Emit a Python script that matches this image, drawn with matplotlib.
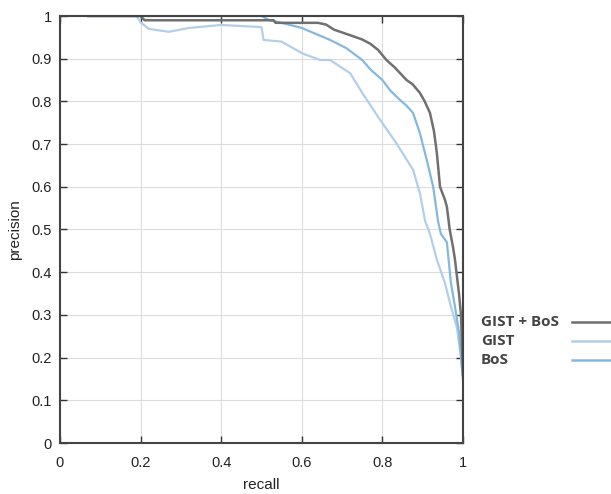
import numpy as np
import matplotlib.pyplot as plt
from matplotlib.lines import Line2D

# precision/recall curves
combo_r = [0.07, 0.20, 0.21, 0.40, 0.53, 0.535, 0.64, 0.66, 0.68, 0.72, 0.75, 0.77, 0.79, 0.81,
           0.83, 0.86, 0.875, 0.893, 0.905, 0.918, 0.928, 0.935, 0.943, 0.955, 0.96, 0.967,
           0.975, 0.98, 0.99, 0.995, 1.0]
combo_p = [1.0, 1.0, 0.99, 0.99, 0.99, 0.984, 0.984, 0.98, 0.968, 0.955, 0.945, 0.935, 0.92, 0.897,
           0.88, 0.85, 0.84, 0.82, 0.80, 0.773, 0.73, 0.68, 0.60, 0.57, 0.553, 0.50,
           0.46, 0.43, 0.35, 0.30, 0.16]

bos_r = [0.07, 0.50, 0.52, 0.55, 0.60, 0.63, 0.67, 0.71, 0.75, 0.77, 0.80, 0.82, 0.844, 0.86,
         0.876, 0.893, 0.91, 0.926, 0.938, 0.945, 0.96, 0.97, 0.98, 0.99, 1.0]
bos_p = [1.0, 1.0, 0.99, 0.984, 0.972, 0.96, 0.944, 0.925, 0.897, 0.875, 0.85, 0.825, 0.803, 0.79,
         0.773, 0.726, 0.663, 0.60, 0.52, 0.49, 0.47, 0.375, 0.32, 0.26, 0.15]

gist_r = [0.07, 0.19, 0.20, 0.22, 0.27, 0.32, 0.40, 0.50, 0.505, 0.55, 0.60, 0.645, 0.67, 0.72,
          0.75, 0.79, 0.836, 0.876, 0.893, 0.906, 0.918, 0.935, 0.955, 0.97, 0.985, 0.995, 1.0]
gist_p = [1.0, 1.0, 0.985, 0.97, 0.963, 0.972, 0.979, 0.974, 0.944, 0.94, 0.913, 0.897, 0.897, 0.866,
          0.82, 0.763, 0.70, 0.64, 0.585, 0.52, 0.49, 0.43, 0.375, 0.32, 0.27, 0.20, 0.15]

labels = ['GIST + BoS', 'GIST', 'BoS']
colors = ['#707070', '#b3cfe8', '#85b8df']

plt.rcParams['font.family'] = ['Liberation Sans', 'DejaVu Sans']

fig = plt.figure(figsize=(6.11, 4.94), dpi=100)
ax = fig.add_axes([60 / 611, 1 - 443 / 494, 403 / 611, 427 / 494])

ax.plot(gist_r, gist_p, color=colors[1], lw=1.6)
ax.plot(bos_r, bos_p, color=colors[2], lw=1.6)
ax.plot(combo_r, combo_p, color=colors[0], lw=1.8)

ax.set_xlim(0, 1)
ax.set_ylim(0, 1)
ax.set_xticks(np.arange(0, 1.01, 0.2))
ax.set_yticks(np.arange(0, 1.01, 0.1))
ax.set_xticklabels(['0', '0.2', '0.4', '0.6', '0.8', '1'])
ax.set_yticklabels(['0', '0.1', '0.2', '0.3', '0.4', '0.5', '0.6', '0.7', '0.8', '0.9', '1'])
ax.tick_params(direction='in', top=True, right=True, length=5, width=1, labelsize=10.5,
               colors='#333333', labelcolor='#222222')
ax.tick_params(axis='x', pad=9)
ax.tick_params(axis='y', pad=6)
ax.grid(True, color='#dcdcdc', lw=0.8)
for s in ax.spines.values():
    s.set_color('#444444')
    s.set_linewidth(1.5)
ax.set_xlabel('recall', fontsize=11, color='#222222', labelpad=6)
ax.set_ylabel('precision', fontsize=11, color='#222222', labelpad=7)

# legend outside, text left, line right
for i, lab in enumerate(labels):
    y = 1 - (322 + 19 * i) / 494
    fig.text(481 / 611, y, lab, fontsize=11, fontweight='bold', color='#444444',
             va='center', ha='left', family=['Open Sans', 'DejaVu Sans'])
    fig.add_artist(Line2D([572 / 611, 1.0], [y, y], color=colors[i], lw=1.8,
                          transform=fig.transFigure))

fig.savefig('out.png', dpi=100)
